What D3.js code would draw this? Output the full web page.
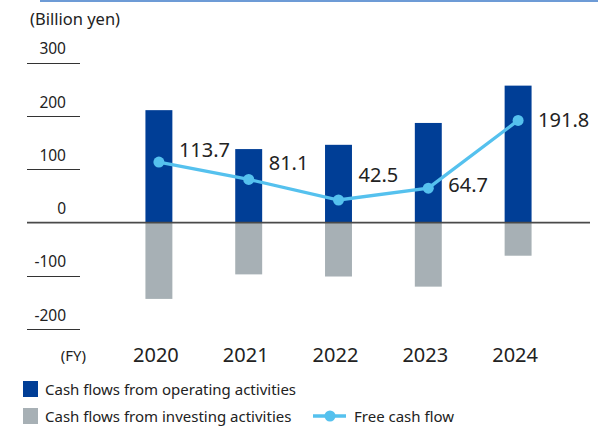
<!DOCTYPE html>
<html lang="en">

<head>
    <meta charset="utf-8">
    <script src="https://d3js.org/d3.v7.min.js"></script>
    <style>
        body { margin: 0; background: #fff; }
        text { font-family: "Noto Sans", "Open Sans", sans-serif; fill: #222; }
    </style>
</head>

<body>
    <div id="graph"></div>
    <script>
        // data
        var years = ["2020", "2021", "2022", "2023", "2024"];
        var operating = [211, 138, 146, 187, 257];
        var investing = [-143, -97, -101, -120, -62];
        var freeCash = [113.7, 81.1, 42.5, 64.7, 191.8];
        var yTicks = [300, 200, 100, 0, -100, -200];

        // label nudges (px) relative to each dot
        var labelDy = [-5, -9, -18, 4, 7];

        var width = 598,
            height = 427;

        var svg = d3.select("#graph").append("svg")
            .attr("width", width)
            .attr("height", height);

        var x = d3.scaleBand()
            .domain(years)
            .range([114, 563])
            .paddingInner(0.7)
            .paddingOuter(0.35);

        var y = d3.scaleLinear()
            .domain([-200, 300])
            .range([329.3, 62.7]);

        var cx = d => x(d) + x.bandwidth() / 2;

        // top rule
        svg.append("line")
            .attr("x1", 40).attr("x2", width)
            .attr("y1", 1).attr("y2", 1)
            .attr("stroke", "#6d9bd6")
            .attr("stroke-width", 2);

        svg.append("text")
            .attr("x", 30).attr("y", 25)
            .style("font-size", "16.5px")
            .text("(Billion yen)");

        // y ticks: short rule with label above
        var tick = svg.append("g")
            .selectAll("g")
            .data(yTicks.filter(d => d !== 0))
            .enter().append("g");
        tick.append("line")
            .attr("x1", 27).attr("x2", 80)
            .attr("y1", d => Math.round(y(d)) + 0.5)
            .attr("y2", d => Math.round(y(d)) + 0.5)
            .attr("stroke", "#333");
        svg.append("g")
            .selectAll("text")
            .data(yTicks)
            .enter().append("text")
            .attr("x", 66)
            .attr("y", d => y(d) - 8.5)
            .attr("text-anchor", "end")
            .style("font-size", "15.5px")
            .text(d => d);

        // bars
        svg.append("g")
            .selectAll("rect")
            .data(years)
            .enter().append("rect")
            .attr("x", d => x(d))
            .attr("width", x.bandwidth())
            .attr("y", (d, i) => y(operating[i]))
            .attr("height", (d, i) => y(0) - y(operating[i]))
            .attr("fill", "#003e96");

        svg.append("g")
            .selectAll("rect")
            .data(years)
            .enter().append("rect")
            .attr("x", d => x(d))
            .attr("width", x.bandwidth())
            .attr("y", y(0))
            .attr("height", (d, i) => y(investing[i]) - y(0))
            .attr("fill", "#a7b0b5");

        // zero line
        svg.append("line")
            .attr("x1", 27).attr("x2", 590)
            .attr("y1", y(0)).attr("y2", y(0))
            .attr("stroke", "#4a4a4a")
            .attr("stroke-width", 1.6);

        // free cash flow line
        var line = d3.line()
            .x((d, i) => cx(years[i]))
            .y(d => y(d));

        svg.append("path")
            .datum(freeCash)
            .attr("d", line)
            .attr("fill", "none")
            .attr("stroke", "#55c1ee")
            .attr("stroke-width", 3.3);

        svg.append("g")
            .selectAll("circle")
            .data(freeCash)
            .enter().append("circle")
            .attr("cx", (d, i) => cx(years[i]))
            .attr("cy", d => y(d))
            .attr("r", 5.5)
            .attr("fill", "#55c1ee");

        svg.append("g")
            .selectAll("text")
            .data(freeCash)
            .enter().append("text")
            .attr("x", (d, i) => cx(years[i]) + 20)
            .attr("y", (d, i) => y(d) + labelDy[i])
            .style("font-size", "20px")
            .text(d => d.toFixed(1));

        // x labels
        svg.append("text")
            .attr("x", 86).attr("y", 361)
            .attr("text-anchor", "end")
            .style("font-size", "15px")
            .text("(FY)");

        svg.append("g")
            .selectAll("text")
            .data(years)
            .enter().append("text")
            .attr("x", d => cx(d) - 3)
            .attr("y", 362)
            .attr("text-anchor", "middle")
            .style("font-size", "20px")
            .text(d => d);

        // legend
        var legend = svg.append("g");
        legend.append("rect")
            .attr("x", 23).attr("y", 381).attr("width", 15).attr("height", 16)
            .attr("fill", "#003e96");
        legend.append("text")
            .attr("x", 45).attr("y", 395)
            .style("font-size", "15px")
            .text("Cash flows from operating activities");
        legend.append("rect")
            .attr("x", 23).attr("y", 408).attr("width", 15).attr("height", 16)
            .attr("fill", "#a7b0b5");
        legend.append("text")
            .attr("x", 45).attr("y", 422)
            .style("font-size", "15px")
            .text("Cash flows from investing activities");
        legend.append("line")
            .attr("x1", 313).attr("x2", 346)
            .attr("y1", 416).attr("y2", 416)
            .attr("stroke", "#55c1ee")
            .attr("stroke-width", 3.3);
        legend.append("circle")
            .attr("cx", 330).attr("cy", 416).attr("r", 5.5)
            .attr("fill", "#55c1ee");
        legend.append("text")
            .attr("x", 354).attr("y", 422)
            .style("font-size", "15px")
            .text("Free cash flow");
    </script>
</body>

</html>
